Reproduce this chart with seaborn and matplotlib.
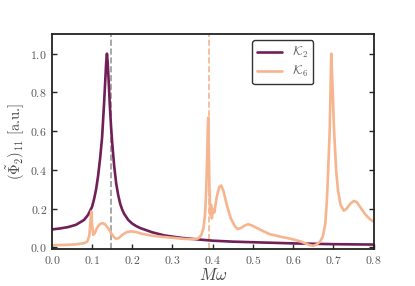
import numpy as np
import pandas as pd
import matplotlib
matplotlib.use("Agg")
import matplotlib.pyplot as plt
import seaborn as sns

# K_2 response
k2_x = [0.0, 0.02, 0.04, 0.06, 0.08, 0.09, 0.1, 0.105, 0.11, 0.115, 0.12, 0.125,
        0.13, 0.133, 0.135, 0.137, 0.139, 0.141, 0.144, 0.147, 0.15, 0.155, 0.16,
        0.165, 0.17, 0.175, 0.18, 0.19, 0.2, 0.21, 0.22, 0.25, 0.28, 0.32, 0.36,
        0.4, 0.45, 0.5, 0.55, 0.6, 0.65, 0.7, 0.75, 0.8]
k2_y = [0.093, 0.098, 0.105, 0.117, 0.142, 0.168, 0.21, 0.25, 0.3, 0.37, 0.46, 0.57,
        0.75, 0.87, 0.95, 1.0, 0.95, 0.87, 0.74, 0.63, 0.54, 0.42, 0.33,
        0.27, 0.225, 0.195, 0.173, 0.142, 0.123, 0.11, 0.1, 0.078, 0.062, 0.05, 0.042,
        0.035, 0.03, 0.027, 0.024, 0.021, 0.019, 0.017, 0.016, 0.015]

# K_6 response
k6_x = [0.0, 0.03, 0.06, 0.08, 0.088, 0.093, 0.096, 0.098, 0.1, 0.103, 0.107, 0.112,
        0.118, 0.125, 0.132, 0.14, 0.148, 0.155, 0.16, 0.167, 0.175, 0.185, 0.196,
        0.21, 0.225, 0.245, 0.27, 0.3, 0.33, 0.355, 0.365, 0.372, 0.377, 0.381,
        0.384, 0.386, 0.388, 0.389, 0.39, 0.392, 0.394, 0.396, 0.398, 0.4, 0.404,
        0.41, 0.416, 0.421, 0.427, 0.435, 0.445, 0.455, 0.462, 0.47, 0.479, 0.488,
        0.498, 0.52, 0.54, 0.57, 0.6, 0.62, 0.64, 0.65, 0.658, 0.667, 0.674, 0.68,
        0.684, 0.687, 0.691, 0.695, 0.699, 0.702, 0.7075, 0.712, 0.718, 0.726,
        0.733, 0.742, 0.751, 0.758, 0.768, 0.78, 0.79, 0.8]
k6_y = [0.012, 0.013, 0.016, 0.022, 0.03, 0.06, 0.13, 0.186, 0.12, 0.065, 0.075, 0.1,
        0.118, 0.126, 0.12, 0.1, 0.072, 0.052, 0.044, 0.05, 0.065, 0.078, 0.083,
        0.079, 0.07, 0.062, 0.056, 0.05, 0.044, 0.042, 0.048, 0.065, 0.1, 0.17,
        0.3, 0.45, 0.62, 0.67, 0.55, 0.3, 0.17, 0.22, 0.15, 0.2, 0.18,
        0.26, 0.31, 0.32, 0.29, 0.22, 0.15, 0.11, 0.095, 0.1, 0.112, 0.12,
        0.113, 0.09, 0.07, 0.055, 0.042, 0.03, 0.013, 0.009, 0.015, 0.03, 0.057, 0.12,
        0.24, 0.385, 0.6, 1.0, 0.78, 0.6, 0.385, 0.29, 0.22, 0.19,
        0.2, 0.225, 0.24, 0.235, 0.205, 0.17, 0.148, 0.134]

labels = [r"$\mathcal{K}_2$", r"$\mathcal{K}_6$"]
vlines = [0.148, 0.39]

sns.set_style("ticks")
plt.rcParams["font.family"] = "serif"
plt.rcParams["font.serif"] = ["cmr10", "DejaVu Serif"]
plt.rcParams["mathtext.fontset"] = "cm"
plt.rcParams["axes.formatter.use_mathtext"] = True

pal = sns.color_palette("rocket", 6)
c2, c6 = pal[1], pal[5]

df = pd.concat([
    pd.DataFrame({"x": k2_x, "y": k2_y, "series": labels[0]}),
    pd.DataFrame({"x": k6_x, "y": k6_y, "series": labels[1]}),
])

fig, ax = plt.subplots(figsize=(4.15, 2.86), dpi=100)
fig.subplots_adjust(left=0.125, right=0.9, bottom=0.13, top=0.88)

sns.lineplot(data=df, x="x", y="y", hue="series", palette=[c2, c6],
             linewidth=1.9, ax=ax, sort=False, estimator=None)

ax.axvline(vlines[0], color="#999999", ls="--", lw=1.2, zorder=0)
ax.axvline(vlines[1], color=c6, ls="--", lw=1.2, zorder=0)

ax.set_xlim(0, 0.8)
ax.set_ylim(-0.007, 1.1)
ax.set_xticks(np.arange(0, 0.81, 0.1))
ax.set_yticks(np.arange(0, 1.01, 0.2))
ax.set_xlabel(r"$M\omega$", fontsize=12, color="#444444", labelpad=1)
ax.set_ylabel(r"$(\tilde{\Phi}_2)_{11}$ [a.u.]", fontsize=10.5, color="#444444", labelpad=2)
ax.tick_params(direction="in", right=True, labelsize=8.5, labelcolor="#555555",
               length=3.5, width=1)
for s in ax.spines.values():
    s.set_linewidth(1.3)
    s.set_color("#222222")

leg = ax.legend(loc="upper right", bbox_to_anchor=(0.813, 0.972), borderaxespad=0,
                fontsize=9, frameon=True, fancybox=True, handlelength=2.0,
                labelspacing=0.3)
leg.get_frame().set_edgecolor("black")
leg.get_frame().set_linewidth(1.0)
for t in leg.get_texts():
    t.set_color("#555555")

plt.savefig("out.png", dpi=100)
